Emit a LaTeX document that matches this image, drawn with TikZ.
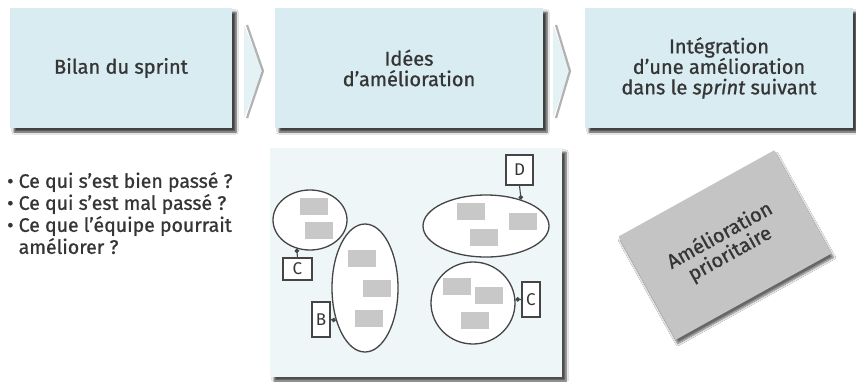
\documentclass[tikz,border=0pt]{standalone}
\usepackage{fontspec}
\setmainfont{Fira Sans}
\newfontfamily\medfont{Fira Sans}[FakeBold=0.9]
\usetikzlibrary{shapes.geometric,arrows.meta,shadows.blur}
\definecolor{boxblue}{HTML}{D8ECF1}
\definecolor{chevblue}{HTML}{E4F2F5}
\definecolor{panelblue}{HTML}{EEF6F8}
\definecolor{txt}{HTML}{353535}
\definecolor{ovalline}{HTML}{454545}
\definecolor{chipgray}{HTML}{C8C8C8}
\definecolor{notegray}{HTML}{C4C4C4}
\begin{document}
\begin{tikzpicture}[x=1pt,y=-1pt,
  stage/.style={fill=boxblue, minimum height=120pt, text=txt, align=center, inner sep=0pt,
    font=\medfont\fontsize{20}{20.5}\selectfont,
    blur shadow={shadow xshift=4pt, shadow yshift=-4pt, shadow blur steps=6, shadow opacity=75}},
  panel/.style={fill=panelblue, inner sep=0pt,
    blur shadow={shadow xshift=4pt, shadow yshift=-4pt, shadow blur steps=6, shadow opacity=70}},
  oval/.style={ellipse, draw=ovalline, line width=1.3pt, fill=white, inner sep=0pt},
  chip/.style={fill=chipgray, minimum width=28pt, minimum height=17pt, inner sep=0pt},
  lbox/.style={draw=ovalline, fill=white, line width=1.1pt, inner sep=0pt, text=txt,
    font=\fontsize{17}{17}\selectfont},
  conn/.style={draw=ovalline, line width=1.1pt, -{Circle[length=4.5pt]}},
  chev/.style={fill=chevblue},
  chevedge/.style={draw=gray, line width=2.2pt, opacity=0.6, line join=round},
  notestyle/.style={fill=notegray, inner sep=0pt, minimum width=178pt, minimum height=118pt,
    align=center, text=txt, font=\medfont\fontsize{20}{21}\selectfont,
    blur shadow={shadow xshift=2pt, shadow yshift=-4pt, shadow blur steps=6, shadow opacity=60}}
]
\useasboundingbox[fill=white] (0,0) rectangle (856,381);

% stage boxes
\node[stage, minimum width=222pt] (s1) at (121,68) {Bilan du sprint};
\node[stage, minimum width=268pt] (s2) at (409,68) {Idées\\d’amélioration};
\node[stage, minimum width=268pt] (s3) at (719,68) {Intégration\\d’une amélioration\\dans le \textit{sprint} suivant};

% chevrons
\fill[chev] (244,25) -- (263,71) -- (244,118) -- cycle;
\draw[chevedge] (247,25) -- (263,71) -- (247,118);
\fill[chev] (553,25) -- (570,71) -- (553,118) -- cycle;
\draw[chevedge] (556,25) -- (570,71) -- (556,118);

% bullet list
\node[anchor=north west, align=left, text=txt, inner sep=0pt,
  font=\medfont\fontsize{19.5}{22}\selectfont] (list) at (7,172)
  {• Ce qui s’est bien passé ?\\
   • Ce qui s’est mal passé ?\\
   • Ce que l’équipe pourrait\\
   \phantom{• }améliorer ?};

% middle panel
\node[panel, minimum width=292pt, minimum height=229pt] (panel) at (416,262.5) {};

% ovals
\node[oval, minimum width=74pt, minimum height=60pt] (e1) at (310,220) {};
\node[oval, minimum width=66pt, minimum height=128pt] (e2) at (365,288) {};
\node[oval, minimum width=126pt, minimum height=62pt] (e3) at (486,226) {};
\node[oval, minimum width=84pt, minimum height=82pt] (e4) at (473,303) {};

% chips
\node[chip] (c11) at (314,206.5) {};
\node[chip] (c12) at (319,230) {};
\node[chip] (c21) at (362,258.5) {};
\node[chip] (c22) at (377,288.5) {};
\node[chip] (c23) at (369,318.5) {};
\node[chip] (c31) at (471,211.5) {};
\node[chip] (c32) at (522.5,221) {};
\node[chip] (c33) at (483.5,237.5) {};
\node[chip] (c41) at (457,286.5) {};
\node[chip] (c42) at (488.5,295) {};
\node[chip] (c43) at (475,320) {};

% letter boxes
\node[lbox, minimum width=29pt, minimum height=22pt] (lc1) at (297.5,269) {C};
\node[lbox, minimum width=18pt, minimum height=35pt] (lb) at (321,319.5) {B};
\node[lbox, minimum width=27pt, minimum height=30pt] (ld) at (519.5,170) {D};
\node[lbox, minimum width=18pt, minimum height=35pt] (lc2) at (531,299.5) {C};

% connectors
\draw[conn] (lc1.north) -- (e1.245);
\draw[conn] (lb.east) -- (e2.228);
\draw[conn] (ld.south) -- (e3.37.5);
\draw[conn] (lc2.west) -- (e4.5);

% priority note
\node[notestyle, rotate=29] (note) at (725,245) {Amélioration\\prioritaire};
\end{tikzpicture}
\end{document}
